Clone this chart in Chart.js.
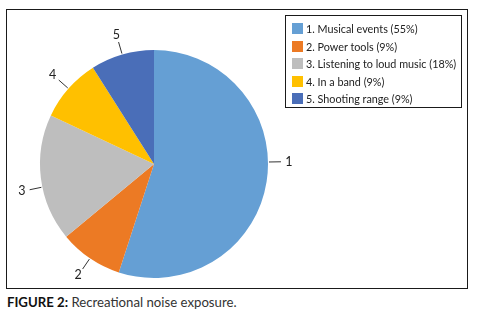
<!DOCTYPE html>
<html>
<head>
<meta charset="utf-8">
<script src="https://cdn.jsdelivr.net/npm/chart.js@4.4.0/dist/chart.umd.min.js"></script>
<style>
  html, body { margin: 0; padding: 0; background: #fff; }
  body { width: 480px; height: 319px; position: relative; overflow: hidden; font-family: Lato, "Open Sans", sans-serif; }
  #frame { position: absolute; left: 6px; top: 9px; width: 460px; height: 278px; border: 1px solid #1a1a1a; }
  #chart { position: absolute; left: 0; top: 0; }
  #legend { position: absolute; left: 278px; top: 5px; width: 177px; height: 93px; border: 1px solid #1a1a1a; box-sizing: border-box; }
  #legend .row { position: absolute; left: 0; height: 14px; line-height: 14px; font-size: 10.8px; color: #222; white-space: nowrap; }
  #legend .sw { position: absolute; left: 6px; top: 1px; width: 11px; height: 11px; }
  #legend .tx { position: absolute; left: 20px; top: 0; }
  #caption { position: absolute; left: 7px; top: 294px; font-size: 13.2px; color: #333; white-space: nowrap; }
  #caption b { color: #111; }
</style>
</head>
<body>
<div id="frame">
  <canvas id="chart" width="460" height="278"></canvas>
  <div id="legend"></div>
</div>
<div id="caption"><b>FIGURE 2:</b> Recreational noise exposure.</div>
<script>
// Chart data
var categories = ["Musical events", "Power tools", "Listening to loud music", "In a band", "Shooting range"];
var shortLabels = ["1", "2", "3", "4", "5"];
var percentages = [55, 9, 18, 9, 9];
var sliceColors = ["#659FD4", "#EC7A24", "#BEBEBE", "#FFC000", "#4A6EB8"];

// Build legend (rows 17.5px apart)
var legendEl = document.getElementById("legend");
categories.forEach(function(name, i) {
    var row = document.createElement("div");
    row.className = "row";
    row.style.top = (6 + i * 17.5) + "px";
    row.innerHTML = '<span class="sw" style="background:' + sliceColors[i] + '"></span>' +
        '<span class="tx">' + shortLabels[i] + '. ' + name + ' (' + percentages[i] + '%)</span>';
    legendEl.appendChild(row);
});

// Outside labels with leader lines
var leaderLabels = {
    id: "leaderLabels",
    afterDatasetsDraw: function(chart, args, opts) {
        var ctx = chart.ctx;
        var meta = chart.getDatasetMeta(0);
        ctx.save();
        ctx.strokeStyle = "#333";
        ctx.lineWidth = 1;
        ctx.fillStyle = "#222";
        ctx.font = "12.5px Lato, 'Open Sans', sans-serif";
        ctx.textAlign = "center";
        ctx.textBaseline = "middle";
        meta.data.forEach(function(arc, i) {
            var p = arc.getProps(["x", "y", "startAngle", "endAngle", "outerRadius"], true);
            var a = (p.startAngle + p.endAngle) / 2 + (opts.shift[i] || 0) * Math.PI / 180;
            var r = p.outerRadius;
            var cx = Math.cos(a), cy = Math.sin(a);
            ctx.beginPath();
            ctx.moveTo(p.x + cx * (r + 1), p.y + cy * (r + 1));
            ctx.lineTo(p.x + cx * (r + 13), p.y + cy * (r + 13));
            ctx.stroke();
            ctx.fillText(chart.data.labels[i], p.x + cx * (r + 21), p.y + cy * (r + 20));
        });
        ctx.restore();
    }
};

var ctx = document.getElementById("chart").getContext("2d");
new Chart(ctx, {
    type: "pie",
    data: {
        labels: shortLabels,
        datasets: [{
            data: percentages,
            backgroundColor: sliceColors,
            borderWidth: 0
        }]
    },
    options: {
        responsive: false,
        animation: false,
        layout: { padding: { left: 33, top: 40, right: 199, bottom: 10 } },
        plugins: {
            legend: { display: false },
            tooltip: { enabled: false },
            leaderLabels: { shift: [-10, 0, -4.5, 0, 0] }
        }
    },
    plugins: [leaderLabels]
});
</script>
</body>
</html>
